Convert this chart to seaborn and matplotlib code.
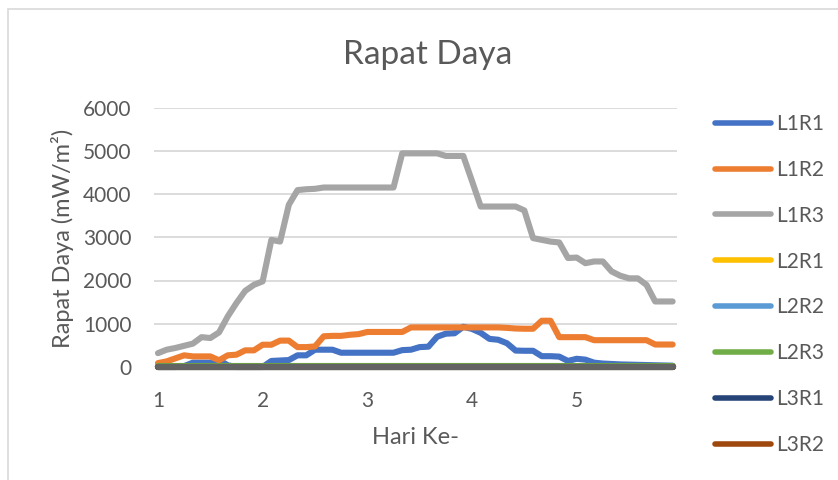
import numpy as np
import pandas as pd
import matplotlib
matplotlib.use("Agg")
import matplotlib.pyplot as plt
import seaborn as sns
from matplotlib.patches import Rectangle
from matplotlib.lines import Line2D

# ---- data (one point every 2 hours, 12 per day) ----
hari = [1 + k / 12 for k in range(60)]

L1R1 = [0, 0, 0, 20, 100, 100, 100, 160, 40, 0,
        0, 0, 0, 140, 150, 160, 270, 270, 400, 400,
        400, 330, 330, 330, 330, 330, 330, 330, 390, 400,
        460, 470, 700, 770, 780, 930, 880, 790, 650, 630,
        550, 380, 375, 375, 250, 250, 240, 140, 190, 170,
        100, 80, 70, 60, 55, 50, 45, 40, 35, 30]
L1R2 = [90, 130, 200, 270, 245, 245, 245, 155, 270, 285,
        385, 385, 515, 515, 610, 610, 460, 460, 475, 710,
        720, 720, 745, 760, 810, 810, 810, 810, 810, 915,
        915, 915, 915, 915, 915, 915, 915, 915, 915, 915,
        905, 890, 885, 885, 1070, 1070, 690, 690, 690, 690,
        620, 620, 620, 620, 620, 620, 620, 520, 520, 520]
L1R3 = [320, 400, 440, 490, 540, 690, 670, 800, 1170, 1480,
        1760, 1900, 1980, 2940, 2900, 3750, 4090, 4110, 4120, 4150,
        4150, 4150, 4150, 4150, 4150, 4150, 4150, 4150, 4940, 4940,
        4940, 4940, 4940, 4880, 4880, 4880, 4300, 3710, 3710, 3710,
        3710, 3710, 3620, 2980, 2940, 2900, 2880, 2520, 2530, 2400,
        2440, 2440, 2210, 2110, 2050, 2050, 1900, 1515, 1515, 1515]
L2R1 = [0] * 60
L2R2 = [10] * 60
L2R3 = [20] * 60
L3R1 = [0] * 60
L3R2 = [0] * 60
L3R3 = [0] * 60

series_names = ["L1R1", "L1R2", "L1R3", "L2R1", "L2R2", "L2R3", "L3R1", "L3R2", "L3R3"]
series_vals = [L1R1, L1R2, L1R3, L2R1, L2R2, L2R3, L3R1, L3R2, L3R3]
colors = ["#4472C4", "#ED7D31", "#A5A5A5", "#FFC000", "#5B9BD5",
          "#70AD47", "#264478", "#9E480E", "#636363"]
legend_names = series_names[:8]

ytick_vals = [0, 1000, 2000, 3000, 4000, 5000, 6000]
xtick_vals = [1, 2, 3, 4, 5]

df = pd.DataFrame({
    "Hari": np.tile(hari, len(series_names)),
    "Nilai": np.concatenate(series_vals),
    "Seri": np.repeat(series_names, len(hari)),
})

sns.set_style("white")
plt.rcParams["font.family"] = ["Lato", "DejaVu Sans"]
TXT = "#595959"

W, H = 838, 480
fig = plt.figure(figsize=(W / 100, H / 100), dpi=100)

# chart-area frame
fig.patches.append(Rectangle((8 / W, -0.1), 1.2, (H - 9) / H + 0.1,
                             transform=fig.transFigure, fill=False,
                             edgecolor="#D9D9D9", linewidth=1.2, zorder=0))

left, right, top, bottom = 153.6, 677.0, 107.5, 367.0
ax = fig.add_axes([left / W, 1 - bottom / H, (right - left) / W, (bottom - top) / H])

sns.lineplot(data=df, x="Hari", y="Nilai", hue="Seri", hue_order=series_names,
             palette=colors, linewidth=4.4, ax=ax, legend=False, sort=False)
for ln in ax.lines:
    ln.set_solid_capstyle("round")
    ln.set_solid_joinstyle("round")
    ln.set_clip_on(False)

ax.set_xlim(1 - 0.5 / 12, 1 + 59.5 / 12)
ax.set_ylim(0, 6000)
ax.set_xticks(xtick_vals)
ax.set_xticklabels([str(v) for v in xtick_vals])
ax.set_yticks(ytick_vals)
ax.set_yticklabels([str(v) for v in ytick_vals])
ax.tick_params(axis="both", length=0, labelsize=15, labelcolor=TXT)
ax.tick_params(axis="x", pad=17)
ax.tick_params(axis="y", pad=16)
ax.grid(axis="y", color="#D9D9D9", linewidth=1.3)
ax.set_axisbelow(True)
for s in ax.spines.values():
    s.set_visible(False)
ax.set_xlabel("")
ax.set_ylabel("")

fig.text(428 / W, 1 - 55 / H, "Rapat Daya", ha="center", va="center",
         fontsize=24, color=TXT)
fig.text(415 / W, 1 - 438 / H, "Hari Ke-", ha="center", va="center",
         fontsize=17, color=TXT)
fig.text(62 / W, 1 - 238 / H, "Rapat Daya (mW/m²)", ha="center", va="center",
         rotation=90, fontsize=17, color=TXT)

handles = [Line2D([], [], color=c, linewidth=4.0, solid_capstyle="round")
           for c in colors[:8]]
leg = fig.legend(handles, legend_names, loc="upper left",
                 bbox_to_anchor=(715 / W, 1 - 114 / H), frameon=False,
                 fontsize=15, labelcolor=TXT, handlelength=2.7,
                 handletextpad=0.25, labelspacing=1.24, borderaxespad=0,
                 borderpad=0)

fig.savefig("out.png", dpi=100)
